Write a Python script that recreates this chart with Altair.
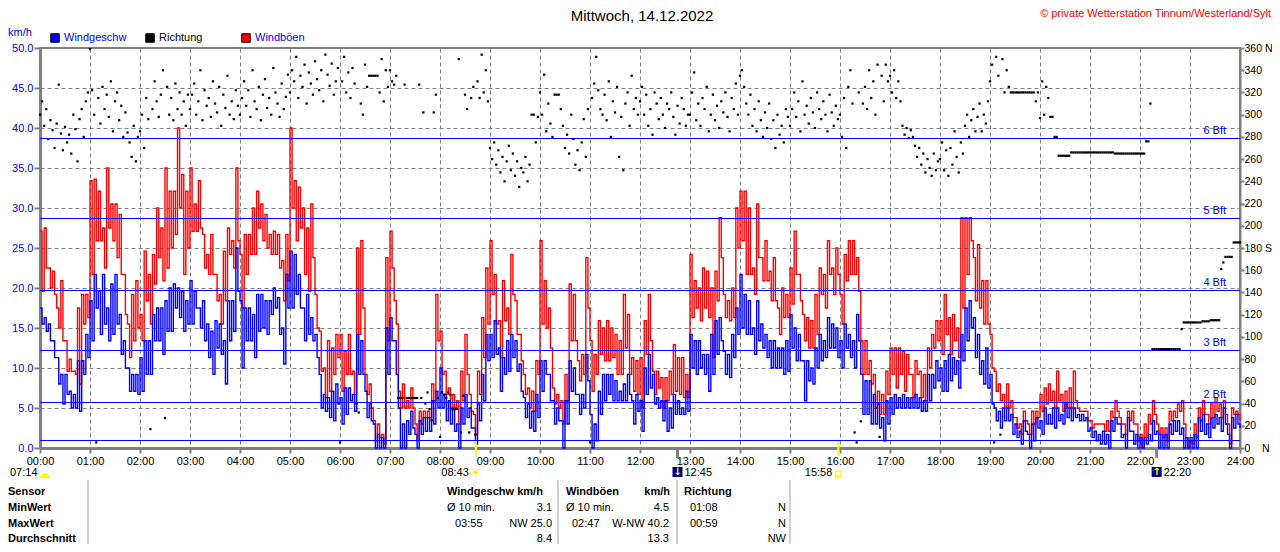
import altair as alt
import pandas as pd

FONT = "Liberation Sans"

# ---------------- data (2.5 min steps, 00:00 .. 24:00) ----------------
windgeschw = [
    17.5, 15.5, 16.3, 14.6, 15.5, 13.4, 13.4, 11.3, 11.3, 8.0, 9.2, 5.5, 9.2, 6.7, 7.1, 5.0, 6.7, 5.0, 10.9, 4.6, 10.9, 9.2, 14.2, 11.3,
    18.4, 13.4, 21.7, 17.5, 19.6, 14.2, 21.7, 15.5, 17.5, 13.4, 20.5, 14.2, 21.7, 15.5, 16.7, 11.7, 13.4, 10.0, 10.0, 7.1, 9.2, 7.1, 9.2, 6.7,
    11.3, 7.1, 13.4, 9.2, 13.4, 9.2, 16.7, 13.4, 17.5, 13.4, 17.5, 11.7, 18.4, 14.6, 20.0, 14.6, 20.5, 17.5, 20.0, 16.3, 19.6, 14.6, 18.4, 15.5,
    20.9, 15.5, 19.6, 17.5, 17.5, 15.0, 18.4, 13.4, 15.5, 11.3, 14.6, 9.2, 15.9, 12.5, 15.5, 11.7, 13.4, 8.0, 18.4, 13.4, 18.4, 14.6, 25.0, 19.6,
    18.4, 10.0, 17.5, 13.4, 17.5, 13.4, 16.7, 11.3, 19.2, 14.6, 19.2, 15.0, 18.4, 14.2, 18.4, 16.7, 20.0, 17.5, 18.8, 14.2, 15.0, 10.5, 21.7, 17.5,
    24.6, 17.5, 24.2, 19.2, 21.7, 17.5, 17.5, 13.4, 19.2, 14.2, 16.3, 13.4, 14.2, 11.3, 9.2, 5.0, 6.7, 4.6, 6.3, 3.8, 7.1, 3.4, 8.0, 5.5,
    6.3, 3.0, 7.5, 4.2, 7.5, 5.9, 6.7, 4.6, 14.2, 9.2, 13.4, 9.2, 7.1, 3.8, 5.5, 3.4, 3.0, 0.0, 1.7, 0.0, 1.3, 0.0, 15.0, 9.2,
    16.3, 13.4, 13.4, 9.2, 5.0, 0.0, 3.0, 0.0, 3.4, 1.7, 4.6, 2.5, 1.7, 0.0, 3.4, 1.7, 3.8, 2.1, 3.8, 2.1, 5.9, 3.0, 7.1, 5.0,
    10.0, 5.0, 6.7, 3.4, 5.9, 3.0, 5.0, 2.1, 3.0, 0.0, 5.0, 3.0, 6.7, 3.8, 5.0, 2.5, 2.5, 0.5, 5.5, 3.4, 9.2, 5.9, 14.2, 10.9,
    14.2, 11.3, 15.9, 11.7, 12.5, 7.1, 11.3, 9.2, 13.4, 9.6, 14.2, 11.3, 13.4, 9.6, 10.5, 7.1, 6.3, 3.8, 5.5, 2.5, 4.6, 2.1, 6.7, 3.8,
    10.9, 7.1, 10.9, 9.2, 9.2, 5.9, 5.9, 3.0, 5.0, 3.4, 3.4, 0.0, 5.9, 3.0, 10.9, 7.1, 10.0, 6.7, 6.7, 4.2, 6.7, 5.0, 11.7, 8.4,
    4.2, 0.0, 3.0, 0.9, 7.1, 4.2, 9.2, 5.9, 9.2, 6.7, 9.2, 5.9, 8.4, 5.9, 7.1, 5.9, 8.0, 5.9, 9.2, 6.7, 5.9, 3.0, 6.7, 4.6,
    5.9, 2.1, 10.0, 6.7, 11.7, 7.5, 9.2, 5.5, 6.3, 5.0, 5.9, 3.4, 5.9, 2.1, 5.0, 2.5, 6.7, 4.2, 5.9, 4.2, 5.0, 4.2, 7.1, 4.6,
    14.2, 10.0, 13.4, 9.2, 13.4, 10.0, 11.7, 9.2, 11.7, 7.1, 14.2, 9.2, 15.9, 11.7, 16.3, 13.4, 12.1, 9.2, 11.7, 8.8, 14.2, 11.3, 17.5, 14.2,
    21.7, 15.0, 19.2, 14.2, 18.4, 14.2, 15.0, 11.7, 18.4, 13.4, 15.5, 12.5, 14.2, 11.3, 13.4, 10.0, 13.4, 10.0, 12.5, 10.0, 12.5, 9.2, 13.4, 9.6,
    16.7, 12.5, 15.0, 10.9, 14.2, 10.9, 10.9, 5.9, 10.9, 8.4, 10.0, 8.0, 12.5, 10.0, 14.2, 10.9, 13.4, 11.3, 16.3, 12.5, 15.5, 12.5, 15.0, 11.3,
    13.4, 10.0, 15.5, 12.5, 14.2, 11.3, 13.4, 10.0, 16.7, 13.4, 9.2, 4.2, 8.4, 4.2, 8.4, 3.0, 6.7, 3.0, 5.5, 2.5, 3.8, 0.9, 5.9, 3.0,
    6.3, 4.2, 6.7, 5.0, 6.3, 5.0, 6.7, 5.0, 6.3, 5.0, 6.3, 5.0, 6.7, 5.0, 6.3, 4.6, 5.9, 4.6, 9.2, 5.9, 9.2, 7.5, 10.9, 8.4,
    10.0, 7.1, 10.9, 7.1, 11.7, 8.4, 11.3, 9.2, 10.9, 7.5, 14.2, 10.9, 17.5, 13.4, 18.4, 15.0, 16.3, 11.3, 14.2, 9.2, 10.9, 8.0, 12.5, 7.5,
    9.2, 5.5, 5.0, 3.4, 4.6, 2.5, 5.0, 3.4, 5.0, 3.4, 4.2, 1.7, 3.0, 1.3, 2.1, 0.5, 3.4, 2.1, 1.7, 0.0, 3.0, 0.9, 3.8, 2.5,
    3.4, 1.7, 5.0, 3.0, 4.2, 3.0, 5.0, 2.5, 5.0, 3.4, 4.2, 3.0, 5.5, 3.8, 5.0, 3.4, 5.0, 3.8, 4.2, 3.4, 4.2, 3.4, 3.8, 2.1,
    2.5, 1.3, 2.1, 0.9, 1.7, 0.5, 2.1, 0.5, 1.7, 0.0, 3.4, 2.1, 3.8, 3.0, 3.0, 1.3, 1.7, 0.0, 3.8, 2.1, 2.1, 0.5, 1.7, 0.0,
    1.3, 0.0, 1.3, 0.5, 1.7, 0.9, 3.4, 1.7, 2.1, 0.0, 1.7, 0.0, 1.7, 0.0, 3.0, 1.7, 3.4, 2.1, 3.4, 1.7, 2.5, 0.0, 1.3, 0.0,
    1.3, 0.0, 1.7, 0.0, 3.8, 2.1, 4.2, 1.7, 3.0, 1.3, 3.8, 2.5, 4.2, 3.0, 3.8, 2.1, 5.0, 3.0, 1.7, 0.0, 3.8, 2.5, 4.2, 3.0,
    2.5,
]

windboeen = [
    27.1, 19.6, 27.5, 22.5, 22.5, 20.0, 22.1, 19.2, 17.5, 15.0, 20.9, 13.4, 13.4, 9.6, 11.1, 9.6, 9.6, 9.2, 17.5, 8.0, 19.2, 15.5, 19.2, 16.3,
    33.4, 21.7, 33.6, 25.9, 32.1, 25.9, 27.5, 22.5, 35.0, 27.5, 30.5, 25.9, 30.5, 23.8, 29.2, 21.7, 21.7, 16.7, 15.5, 11.3, 19.2, 13.4, 20.9, 15.0,
    16.7, 13.4, 24.6, 18.4, 21.7, 15.5, 24.2, 20.5, 30.0, 23.8, 27.5, 20.9, 35.0, 22.5, 32.1, 25.0, 32.1, 26.7, 40.0, 30.0, 34.2, 21.7, 32.1, 25.0,
    35.0, 27.1, 30.5, 27.1, 33.4, 27.5, 26.7, 22.5, 24.2, 21.7, 26.7, 21.7, 21.7, 18.4, 19.2, 15.5, 24.6, 18.4, 27.5, 24.2, 25.9, 22.5, 35.0, 25.9,
    24.2, 17.5, 26.7, 21.7, 26.7, 24.2, 30.0, 24.2, 32.1, 27.5, 30.5, 25.9, 29.2, 25.0, 26.7, 24.2, 27.1, 24.2, 26.7, 22.5, 23.4, 18.4, 26.7, 20.9,
    40.0, 30.0, 33.4, 25.9, 32.6, 27.5, 30.0, 21.7, 27.5, 19.6, 30.5, 23.8, 19.2, 15.0, 14.6, 9.6, 10.0, 6.3, 13.4, 7.1, 12.5, 9.2, 14.2, 11.3,
    14.2, 7.1, 12.1, 9.2, 14.2, 9.2, 9.6, 6.7, 25.0, 14.2, 25.9, 17.5, 9.2, 6.7, 8.0, 5.0, 3.4, 0.9, 3.0, 1.3, 1.7, 0.5, 23.8, 13.4,
    27.1, 22.5, 18.4, 15.5, 7.1, 5.0, 8.0, 5.0, 5.9, 5.0, 7.5, 5.0, 3.0, 0.9, 4.6, 3.0, 4.6, 3.8, 4.6, 3.8, 8.0, 5.9, 19.2, 13.4,
    14.6, 9.2, 9.6, 6.7, 7.5, 5.0, 6.7, 5.0, 5.9, 3.0, 9.6, 5.9, 14.2, 9.2, 6.7, 4.6, 4.2, 1.7, 9.6, 6.7, 16.3, 11.3, 22.5, 15.5,
    25.9, 19.2, 21.7, 15.5, 15.9, 11.3, 20.9, 15.9, 17.5, 14.2, 24.2, 19.2, 18.4, 14.2, 14.2, 10.9, 9.2, 6.7, 7.5, 5.0, 7.1, 4.6, 10.9, 9.2,
    25.9, 15.5, 20.9, 15.0, 17.5, 12.5, 7.5, 5.5, 6.7, 5.0, 5.9, 3.0, 9.2, 5.9, 20.5, 13.4, 19.2, 13.4, 10.9, 8.4, 11.7, 9.2, 23.8, 17.5,
    13.4, 7.1, 11.7, 9.2, 15.9, 11.7, 15.0, 10.9, 15.9, 10.9, 15.0, 11.3, 14.2, 9.2, 13.4, 9.2, 19.2, 12.5, 16.7, 9.2, 11.3, 7.1, 10.9, 6.7,
    11.3, 5.0, 15.9, 11.7, 19.2, 13.4, 9.6, 6.7, 9.6, 7.5, 8.8, 5.0, 8.8, 5.9, 9.6, 6.7, 12.9, 7.1, 11.3, 6.7, 11.3, 6.3, 9.2, 6.3,
    24.2, 16.3, 20.9, 17.5, 20.0, 15.9, 22.5, 17.5, 22.1, 16.3, 20.0, 11.3, 22.1, 18.4, 28.8, 23.8, 19.2, 16.3, 18.4, 15.9, 20.0, 16.3, 30.0, 25.0,
    32.1, 25.9, 32.1, 21.7, 30.0, 21.7, 22.5, 19.2, 30.5, 23.8, 23.8, 20.9, 25.9, 20.9, 22.1, 18.4, 23.8, 18.4, 17.5, 14.2, 20.0, 16.3, 19.2, 16.3,
    22.5, 18.0, 27.1, 21.7, 21.7, 18.4, 16.7, 13.4, 16.3, 12.5, 15.9, 12.5, 19.2, 14.2, 22.5, 19.2, 21.7, 17.5, 25.9, 21.7, 22.5, 19.2, 25.0, 21.7,
    19.2, 15.5, 24.2, 20.9, 25.9, 21.7, 25.9, 21.7, 23.8, 19.6, 13.4, 9.2, 13.4, 9.2, 10.9, 8.0, 9.2, 5.0, 7.1, 4.2, 6.7, 4.2, 9.6, 6.7,
    12.5, 9.2, 12.5, 7.5, 12.5, 9.2, 12.1, 7.1, 11.7, 9.2, 9.2, 6.3, 10.9, 9.2, 9.6, 6.3, 9.2, 5.9, 12.5, 10.0, 14.2, 12.5, 15.9, 13.4,
    15.9, 11.7, 19.2, 14.2, 16.3, 11.7, 16.7, 13.4, 15.0, 11.3, 28.8, 17.5, 28.8, 21.7, 28.8, 25.9, 23.8, 18.4, 25.4, 17.5, 20.9, 15.5, 20.9, 15.5,
    14.2, 10.0, 9.6, 7.1, 8.0, 5.9, 6.7, 5.0, 8.0, 5.0, 5.9, 3.8, 3.8, 2.5, 3.0, 1.7, 4.6, 3.4, 3.0, 1.7, 4.6, 3.0, 4.6, 3.8,
    6.7, 4.6, 7.5, 5.5, 8.0, 5.9, 7.1, 5.0, 9.6, 5.9, 6.7, 4.6, 7.1, 5.0, 7.5, 5.0, 9.6, 5.9, 5.0, 4.6, 4.6, 4.6, 4.6, 3.4,
    3.4, 2.5, 3.0, 3.0, 3.0, 3.0, 3.0, 2.1, 3.4, 2.1, 4.6, 3.8, 5.9, 4.6, 3.8, 3.0, 3.0, 1.7, 4.6, 3.4, 4.6, 3.0, 3.0, 0.9,
    1.7, 0.0, 3.0, 1.3, 4.2, 3.0, 5.9, 4.2, 3.0, 1.7, 2.5, 1.3, 2.5, 0.9, 4.6, 3.4, 4.6, 3.8, 5.5, 4.6, 5.9, 3.0, 1.3, 0.0,
    0.9, 0.5, 3.0, 1.3, 5.0, 3.4, 5.9, 4.2, 4.2, 3.0, 5.5, 3.8, 6.3, 4.6, 5.5, 3.8, 5.9, 4.2, 3.0, 0.5, 5.0, 4.2, 4.6, 4.2,
    3.4,
]

richtung = [
    300, 312, 290, 305, 278, 295, 286, 270, 292, 327, 283, 268, 289, 275, 282, 265, 300, 287, 258, 296, 305, 280, 312, 320,
    359, 322, 300, 5, 315, 292, 325, 305, 318, 298, 330, 285, 312, 320, 295, 308, 280, 302, 284, 275, 262, 290, 258, 280,
    285, 300, 270, 315, 296, 17, 305, 330, 312, 298, 318, 340, 27, 325, 300, 315, 295, 328, 305, 320, 300, 312, 290, 318,
    305, 318, 328, 300, 312, 340, 295, 322, 308, 315, 298, 330, 310, 302, 325, 290, 318, 306, 335, 300, 312, 296, 322, 308,
    300, 315, 330, 308, 322, 298, 340, 312, 305, 325, 295, 318, 332, 306, 315, 300, 342, 320, 310, 298, 328, 305, 316, 336,
    320, 340, 330, 352, 315, 335, 325, 345, 310, 338, 328, 318, 348, 332, 322, 340, 312, 354, 336, 326, 346, 318, 330, 342,
    5, 330, 352, 320, 338, 315, 342, 328, 40, 32, 310, 300, 345, 325, 335, 335, 335, 335, 335, 320, 350, 312, 340, 325,
    340, 330, 327, 335, 45, 45, 45, 327, 45, 45, 45, 45, 45, 45, 327, 45, 302, 40, 50, 35, 25, 302, 318, 45,
    10, 50, 48, 45, 50, 48, 35, 35, 35, 350, 14, 47, 318, 305, 14, 315, 325, 12, 330, 315, 354, 320, 340, 312,
    270, 260, 275, 255, 268, 248, 262, 240, 258, 272, 250, 265, 245, 258, 235, 252, 248, 262, 240, 255, 300, 300, 275, 298,
    320, 300, 336, 285, 310, 292, 280, 318, 318, 318, 305, 290, 270, 282, 265, 300, 278, 255, 268, 250, 275, 296, 262, 305,
    5, 315, 328, 352, 322, 305, 300, 318, 295, 330, 280, 312, 302, 325, 262, 298, 250, 310, 320, 290, 335, 305, 315, 300,
    312, 325, 300, 318, 290, 305, 282, 320, 310, 296, 315, 300, 288, 310, 305, 320, 298, 282, 308, 292, 315, 305, 290, 300,
    300, 320, 338, 295, 310, 290, 315, 305, 325, 285, 300, 318, 295, 308, 288, 312, 302, 320, 298, 285, 315, 305, 328, 300,
    335, 340, 325, 310, 300, 318, 290, 305, 285, 312, 295, 280, 302, 288, 310, 278, 295, 270, 300, 282, 290, 275, 305, 298,
    290, 305, 320, 298, 312, 285, 330, 300, 308, 292, 315, 302, 288, 320, 305, 296, 312, 300, 285, 318, 302, 290, 308, 296,
    300, 280, 315, 270, 325, 340, 310, 14, 5, 320, 24, 310, 325, 305, 340, 315, 330, 300, 345, 10, 335, 312, 345, 330,
    335, 320, 340, 315, 330, 312, 290, 282, 288, 279, 286, 280, 272, 262, 270, 255, 265, 248, 260, 252, 245, 265, 250, 258,
    260, 275, 250, 268, 245, 270, 255, 285, 262, 248, 275, 265, 290, 300, 280, 295, 305, 285, 298, 310, 285, 300, 292, 312,
    330, 345, 5, 352, 335, 12, 350, 320, 340, 325, 320, 320, 320, 320, 320, 320, 320, 320, 320, 320, 320, 320, 312, 320,
    297, 330, 300, 325, 315, 298, 298, 280, 280, 263, 263, 263, 263, 263, 263, 266, 266, 266, 266, 266, 266, 266, 266, 266,
    266, 266, 266, 266, 266, 266, 266, 266, 266, 266, 266, 266, 265, 265, 265, 265, 265, 265, 265, 265, 265, 265, 265, 265,
    265, 265, 265, 276, 276, 310, 89, 89, 89, 89, 89, 89, 89, 89, 89, 89, 89, 89, 89, 89, 107, 113, 113, 113,
    113, 113, 113, 113, 113, 113, 114, 114, 114, 114, 115, 115, 115, 115, 115, 161, 167, 172, 172, 172, 172, 185, 185, 185,
    185,
]

hour_ticks = list(range(0, 25))
kmh_ticks = list(range(0, 51, 5))
dir_ticks = list(range(0, 361, 20))

# Beaufort lines (km/h)
bft_thresholds = [0.9375, 5.6875, 12.1875, 19.6875, 28.6875, 38.6875]
bft_labels = ["", "2 Bft", "3 Bft", "4 Bft", "5 Bft", "6 Bft"]

marker_times = [8.717, 12.75, 15.967, 22.333]
marker_labels = ["08:43", "12:45", "15:58", "22:20"]
first_marker_label = "07:14"

title_text = "Mittwoch, 14.12.2022"
copyright_text = "\u00a9 private Wetterstation Tinnum/Westerland/Sylt"
legend_names = ["Windgeschw", "Richtung", "Windb\u00f6en"]

row_names = ["Sensor", "MinWert", "MaxWert", "Durchschnitt"]
speed_stats = ["Windgeschw km/h", "\u00d8 10 min.", "3.1", "03:55", "NW 25.0", "8.4"]
gust_stats = ["Windb\u00f6en", "km/h", "\u00d8 10 min.", "4.5", "02:47", "W-NW 40.2", "13.3"]
dir_stats = ["Richtung", "01:08", "N", "00:59", "N", "NW"]

n = len(windgeschw)
assert n == len(windboeen) == len(richtung) == 577, (len(windgeschw), len(windboeen), len(richtung))
df = pd.DataFrame({
    "t": [i * 2.5 / 60.0 for i in range(n)],
    "speed": windgeschw,
    "gust": windboeen,
    "dir": richtung,
})

# ---------------- scales & axes ----------------
GRID = "#808080"


def xs():
    return alt.Scale(domain=[0, 24], nice=False, zero=False)


def ys():
    return alt.Scale(domain=[0, 50], nice=False, zero=False)


ds = alt.Scale(domain=[0, 360], nice=False, zero=False)


def xaxis():
    return alt.Axis(values=hour_ticks, labelExpr="(datum.value < 10 ? '0' : '') + datum.value + ':00'",
                    grid=True, gridColor=GRID, gridDash=[4, 3], gridWidth=1,
                    tickColor=GRID, tickSize=5, tickWidth=2, domainColor=GRID, domainWidth=3,
                    labelColor="black", labelFont=FONT, labelFontSize=11, labelPadding=2,
                    labelOverlap=False, labelFlush=False, title=None)


yaxis = alt.Axis(orient="left", values=kmh_ticks, format=".1f", grid=True, gridColor=GRID, gridDash=[4, 3],
                 gridWidth=1, tickColor=GRID, tickSize=6, tickWidth=2, domainColor=GRID, domainWidth=3,
                 labelColor="#0000ff", labelFont=FONT, labelFontSize=11, labelPadding=1,
                 labelOverlap=False, labelFlush=False, title=None)
NB = "\u00a0"
daxis = alt.Axis(orient="right", values=dir_ticks,
                 labelExpr="datum.value == 360 ? '360 N' : datum.value == 180 ? '180 S' : datum.value == 0 ? '0" + NB * 4 + "N' : datum.value",
                 grid=False, tickColor=GRID, tickSize=4, tickWidth=2, domainColor=GRID, domainWidth=2,
                 labelColor="black", labelFont=FONT, labelFontSize=10.5, labelPadding=0,
                 labelOverlap=False, labelFlush=False, title=None)

# ---------------- data layers ----------------
gust = alt.Chart(df).mark_line(color="#ff0000", strokeWidth=1.4, interpolate="step-after").encode(
    x=alt.X("t:Q", scale=xs(), axis=xaxis()), y=alt.Y("gust:Q", scale=ys(), axis=yaxis))
speed = alt.Chart(df).mark_line(color="#0000ff", strokeWidth=1.4, interpolate="step-after").encode(
    x=alt.X("t:Q", scale=xs(), axis=xaxis()), y=alt.Y("speed:Q", scale=ys(), axis=None))

bft_df = pd.DataFrame({"v": bft_thresholds, "label": bft_labels})
bft_rule = alt.Chart(bft_df).mark_rule(color="#0000ff", strokeWidth=1).encode(
    y=alt.Y("v:Q", scale=ys(), axis=None))
bft_text = alt.Chart(bft_df).mark_text(align="right", baseline="middle", dy=-8, color="#0000ff",
                                        fontSize=11, font=FONT).encode(
    x=alt.value(1186), y=alt.Y("v:Q", scale=ys(), axis=None), text="label:N")

direction = alt.Chart(df).mark_square(size=5, color="black", opacity=1).encode(
    x=alt.X("t:Q", scale=xs(), axis=xaxis()), y=alt.Y("dir:Q", scale=ds, axis=daxis))

# ---------------- decorations ----------------
dummy = alt.Data(values=[{"a": 1}])


def xd(v):
    return alt.X(datum=v, type="quantitative", scale=xs(), axis=xaxis())


def text_at(s, x, y, align="left", size=11, bold=False, color="black", font=FONT):
    return alt.Chart(alt.Data(values=[{"s": s}])).mark_text(
        align=align, baseline="middle", fontSize=size, fontWeight="bold" if bold else "normal",
        color=color, font=font).encode(x=alt.value(x), y=alt.value(y), text="s:N")


deco = []
# header (positions in plot coordinates: page x - 40, page y - 48)
deco.append(text_at(title_text, 602, -32, "center", 15))
deco.append(text_at(copyright_text, 1231, -34, "right", 11, color="#ff0000"))
deco.append(text_at("km/h", -32, -15, "left", 11, color="#0000ff"))
legend_fill = ["#0000ff", "#000000", "#ff0000"]
legend_text_color = ["#0000ff", "#000000", "#0000ff"]
legend_x = [15, 110, 206]
for name, fc, tc, lx in zip(legend_names, legend_fill, legend_text_color, legend_x):
    deco.append(alt.Chart(dummy).mark_square(size=72, fill=fc, stroke="black", strokeWidth=1,
                                             filled=True, opacity=1).encode(
        x=alt.value(lx), y=alt.value(-10)))
    deco.append(text_at(name, lx + 9, -10, "left", 11, color=tc))

# sun / moon markers below the time axis
deco.append(text_at(first_marker_label, -30, 425, "left", 11))
deco.append(alt.Chart(dummy).mark_arc(radius=5, theta=4.712, theta2=7.854, color="#ffff00").encode(
    x=alt.value(5), y=alt.value(430)))
for t_m, col, w, y1, y2 in [(marker_times[0], "#ffff00", 2, 393, 408), (marker_times[2], "#ffff00", 2, 393, 408),
                             (marker_times[1], GRID, 3, 400, 410), (marker_times[3], GRID, 3, 400, 410)]:
    deco.append(alt.Chart(dummy).mark_rule(color=col, strokeWidth=w).encode(
        x=xd(t_m), y=alt.value(y1), y2=alt.value(y2)))
# sunrise
deco.append(alt.Chart(dummy).mark_text(text="\u2600", font="DejaVu Sans", fontSize=13, color="#ffee00",
                                       baseline="middle").encode(x=xd(marker_times[0]), y=alt.value(425)))
deco.append(alt.Chart(alt.Data(values=[{"s": marker_labels[0]}])).mark_text(
    align="right", baseline="middle", dx=-7, fontSize=11, font=FONT, color="black").encode(
    x=xd(marker_times[0]), y=alt.value(425), text="s:N"))
# moon set / rise
for t_m, lab, arrow in [(marker_times[1], marker_labels[1], "\u2193"), (marker_times[3], marker_labels[3], "\u2191")]:
    deco.append(alt.Chart(dummy).mark_square(size=100, color="#000080", opacity=1).encode(
        x=xd(t_m), y=alt.value(424)))
    deco.append(alt.Chart(dummy).mark_text(text=arrow, font="DejaVu Sans", fontSize=10, fontWeight="bold",
                                           color="#ffff00", baseline="middle").encode(
        x=xd(t_m), y=alt.value(424)))
    deco.append(alt.Chart(alt.Data(values=[{"s": lab}])).mark_text(
        align="left", baseline="middle", dx=7, fontSize=11, font=FONT, color="black").encode(
        x=xd(t_m), y=alt.value(425), text="s:N"))
# sunset
deco.append(alt.Chart(dummy).mark_point(shape="square", filled=False, stroke="#ffff00", strokeWidth=1.5,
                                        size=30, opacity=1).encode(x=xd(marker_times[2]), y=alt.value(426)))
deco.append(alt.Chart(alt.Data(values=[{"s": marker_labels[2]}])).mark_text(
    align="right", baseline="middle", dx=-6, fontSize=11, font=FONT, color="black").encode(
    x=xd(marker_times[2]), y=alt.value(425), text="s:N"))

# statistics table
row_y = [444, 460, 476, 491]
for name, ry in zip(row_names, row_y):
    deco.append(text_at(name, -32, ry, "left", 11, bold=True))
deco.append(text_at(speed_stats[0], 407, row_y[0], "left", 11, bold=True))
deco.append(text_at(speed_stats[1], 407, row_y[1], "left"))
deco.append(text_at(speed_stats[2], 512, row_y[1], "right"))
deco.append(text_at(speed_stats[3], 415, row_y[2], "left"))
deco.append(text_at(speed_stats[4], 512, row_y[2], "right"))
deco.append(text_at(speed_stats[5], 512, row_y[3], "right"))
deco.append(text_at(gust_stats[0], 526, row_y[0], "left", 11, bold=True))
deco.append(text_at(gust_stats[1], 630, row_y[0], "right", 11, bold=True))
deco.append(text_at(gust_stats[2], 526, row_y[1], "left"))
deco.append(text_at(gust_stats[3], 629, row_y[1], "right"))
deco.append(text_at(gust_stats[4], 532, row_y[2], "left"))
deco.append(text_at(gust_stats[5], 629, row_y[2], "right"))
deco.append(text_at(gust_stats[6], 629, row_y[3], "right"))
deco.append(text_at(dir_stats[0], 644, row_y[0], "left", 11, bold=True))
deco.append(text_at(dir_stats[1], 650, row_y[1], "left"))
deco.append(text_at(dir_stats[2], 746, row_y[1], "right"))
deco.append(text_at(dir_stats[3], 650, row_y[2], "left"))
deco.append(text_at(dir_stats[4], 746, row_y[2], "right"))
deco.append(text_at(dir_stats[5], 746, row_y[3], "right"))
for sx in [48, 518, 637, 750]:
    deco.append(alt.Chart(dummy).mark_rule(color="#a0a0a0", strokeWidth=1).encode(
        x=alt.value(sx), y=alt.value(432), y2=alt.value(496)))

chart = alt.layer(gust, speed, bft_rule, bft_text, direction, *deco).resolve_scale(y="independent").properties(
    width=1200, height=400,
    padding={"left": 32, "top": 40, "right": 32, "bottom": 96},
    autosize=alt.AutoSizeParams(type="none"),
    background="white",
).configure_view(stroke=GRID, strokeWidth=2)

chart.save("out.html", embed_options={"renderer": "svg", "actions": False})
